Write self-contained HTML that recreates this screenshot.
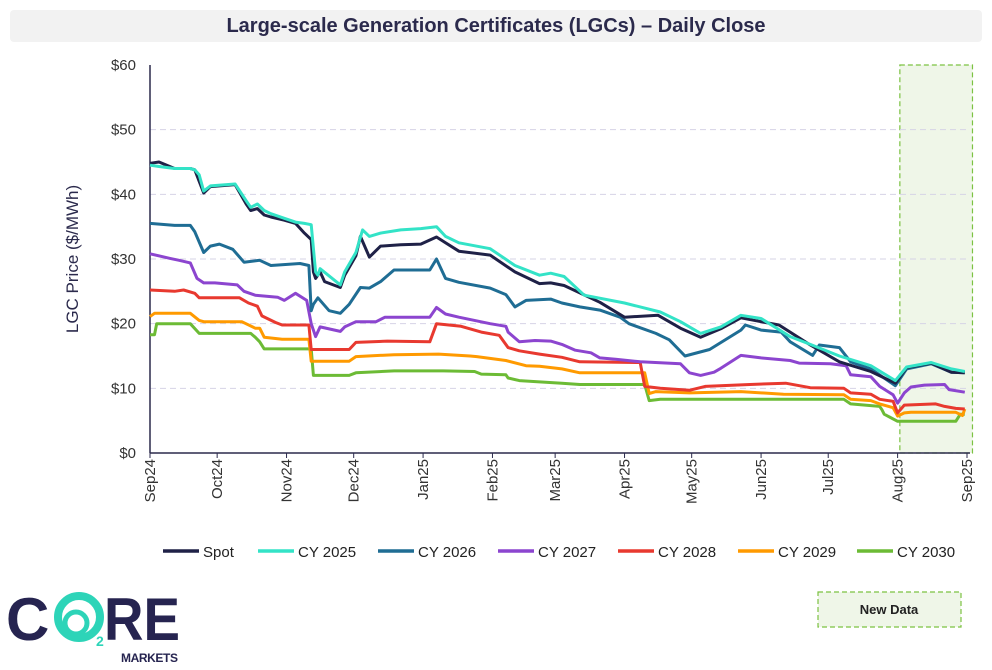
<!DOCTYPE html>
<html><head><meta charset="utf-8"><style>
body{margin:0;background:#fff;font-family:"Liberation Sans",sans-serif;}
#wrap{position:relative;width:992px;height:670px;overflow:hidden;background:#fff;}
#title{position:absolute;left:10px;top:10px;width:972px;height:32px;background:#f2f2f2;border-radius:4px;text-align:center;line-height:32px;font-weight:bold;font-size:20px;color:#2b2a4c;}
</style></head><body>
<div id="wrap">
<div id="title">Large-scale Generation Certificates (LGCs) – Daily Close</div>
<svg id="chart" width="992" height="670" style="position:absolute;left:0;top:0"></svg>
</div>
<script>
const yTicks=[0,10,20,30,40,50,60];
const monthLabels=["Sep24","Oct24","Nov24","Dec24","Jan25","Feb25","Mar25","Apr25","May25","Jun25","Jul25","Aug25","Sep25"];
const monthDays=[0,30,61,91,122,153,181,212,242,273,303,334,365];
const seriesNames=["Spot","CY 2025","CY 2026","CY 2027","CY 2028","CY 2029","CY 2030"];
const spotDays=[0,4,11,18,20,22,24,27,38,43,45,48,51,54,60,65,69,72,73,74,76,78,85,87,92,94,98,103,112,121,128,132,138,152,163,174,179,185,201,212,227,237,246,255,264,273,281,295,308,322,333,338,349,358,364];
const spotVals=[44.8,45,44,44,43.8,42,40.2,41.2,41.5,38.5,37.5,37.8,36.8,36.5,36,35.5,34,33,28,27,28,26.5,25.6,27.5,30.5,33.5,30.3,32,32.2,32.3,33.4,32.5,31.2,30.6,28,26.2,26.3,25.9,23.3,21,21.3,19.3,17.9,19.2,20.9,20.3,19.8,16.7,14.1,12.6,10.8,13.2,13.9,12.5,12.4];
const cy25Days=[0,4,11,18,20,22,24,27,38,43,45,48,51,54,60,65,69,72,74,75,76,85,87,92,95,98,103,112,121,128,132,138,152,163,174,179,185,194,212,228,237,246,255,264,273,286,295,308,322,333,338,349,358,364];
const cy25Vals=[44.5,44.3,44,44,43.8,43,40.5,41.3,41.6,39,38,38.5,37.5,37,36.3,35.7,35.5,35.3,28,27.5,28.5,26,28,31,34.5,33.5,34,34.5,34.7,35,33.5,32.5,31.6,29,27.5,27.8,27.3,24.4,23.2,21.8,20.3,18.5,19.5,21.3,20.8,18,16.8,15,13.5,11.2,13.3,14,13,12.6];
const cy26Days=[0,11,18,20,24,27,31,37,42,49,54,67,71,72,73,75,80,85,89,94,98,103,109,125,128,132,138,152,159,163,168,179,184,192,201,210,214,226,232,239,250,264,266,273,282,286,296,299,308,313,322,333,338,349,358,364];
const cy26Vals=[35.5,35.2,35.2,34.2,31,32,32.3,31.5,29.5,29.8,29,29.3,29,22,23,24,22,21.6,23,25.6,25.5,26.5,28.3,28.3,30,27,26.4,25.5,24.5,22.6,23.6,23.8,23.2,22.6,22.1,21,20,18.5,17.5,15,16,19,19.8,19,18.7,17.2,15.1,16.7,16.3,14.1,13,10.4,13,13.8,12.5,12.4];
const cy27Days=[0,9,13,18,21,24,29,39,42,47,57,60,65,70,72,74,76,85,87,92,101,105,125,128,132,138,152,159,160,165,172,179,184,190,197,201,208,219,237,241,246,252,255,264,273,286,290,304,311,313,322,326,332,334,337,340,346,355,357,364];
const cy27Vals=[30.8,30.1,29.8,29.4,27,26.3,26.3,26,25,24.4,24.1,23.6,24.7,23.6,20,18,19.5,18.8,19.5,20.3,20.3,21,21,22.5,21.5,21,20,19.6,18.7,17.2,17.4,17.3,16.8,15.9,15.5,14.7,14.5,14.1,13.8,12.4,12,12.5,13.1,15.1,14.7,14.3,13.9,13.8,13.5,12.1,11.8,10.3,9.0,7.7,9.3,10.2,10.5,10.6,9.8,9.4];
const cy28Days=[0,11,15,20,22,40,44,48,50,56,59,71,72,89,92,106,125,128,139,148,156,160,165,174,184,192,219,221,228,241,248,268,284,295,310,313,322,326,332,334,337,351,355,360,364];
const cy28Vals=[25.2,25,25.2,24.7,24,24,23.2,22.7,21.2,20.2,19.8,19.8,16,16,17.1,17.3,17.2,20,19.6,18.7,18.2,16.3,15.8,15.3,14.8,14.1,14,10.3,10,9.7,10.3,10.6,10.8,10.1,10,9.3,9.1,8.3,8,6.2,7.4,7.6,7.2,6.9,6.8];
const cy29Days=[0,2,18,22,24,41,47,49,51,59,71,72,89,92,109,129,143,146,159,168,174,184,192,221,223,226,241,264,283,310,313,322,326,332,334,337,340,360,363,364];
const cy29Vals=[21.1,21.6,21.6,20.5,20.3,20.3,19.3,19.3,17.9,17.6,17.6,14.2,14.2,14.9,15.2,15.3,15,14.9,14.3,13.5,13.4,13,12.4,12.4,9.2,9.5,9.3,9.5,9.1,9,8.3,8.1,7.6,7,5.7,6.2,6.3,6.3,5.8,6.8];
const cy30Days=[0,2,3,18,22,45,47,49,51,72,73,89,92,109,131,145,148,159,160,165,174,184,192,221,223,228,310,313,326,327,328,334,360,362,364];
const cy30Vals=[18.3,18.3,20,20,18.5,18.5,17.9,17.2,16.1,16.1,12,12,12.4,12.7,12.7,12.6,12.2,12.1,11.6,11.2,11,10.8,10.6,10.6,8.1,8.3,8.3,7.6,7.2,6.7,6.0,4.9,4.9,6,6];
const newDataStartDay=335, newDataEndDay=367;

const L=150,R=967,T=65,B=453;
const xS=d=>L+(R-L)*d/365;
const yS=v=>B-(B-T)*v/60;
const NS="http://www.w3.org/2000/svg";
const svg=document.getElementById('chart');
function mk(tag,attrs,parent){const e=document.createElementNS(NS,tag);for(const k in attrs)e.setAttribute(k,attrs[k]);(parent||svg).appendChild(e);return e;}

let nd=mk('rect',{x:xS(newDataStartDay),y:T,width:xS(newDataEndDay)-xS(newDataStartDay)+1,height:B-T,fill:'#eff6e8',stroke:'#7cc242','stroke-width':1.2,'stroke-dasharray':'5,3'});



yTicks.forEach(v=>{
  if(v>0&&v<60){let g=mk('line',{x1:L,x2:970,y1:yS(v),y2:yS(v),stroke:'#d6d3e6','stroke-width':1,'stroke-dasharray':'6,4'});
  
  }
  let t=mk('text',{x:136,y:yS(v)+5,'text-anchor':'end','font-size':15,fill:'#333','font-family':'Liberation Sans, sans-serif'});
  t.textContent='$'+v;
  
  
});
let yax=mk('line',{x1:L,x2:L,y1:T,y2:B,stroke:'#2b2a4c','stroke-width':1.5});


let xax=mk('line',{x1:L,x2:970,y1:B,y2:B,stroke:'#2b2a4c','stroke-width':1.5});


let yt=mk('text',{x:0,y:0,transform:'translate(78,259) rotate(-90)','text-anchor':'middle','font-size':17,fill:'#2b2a4c','font-family':'Liberation Sans, sans-serif'});
yt.textContent='LGC Price ($/MWh)';



monthLabels.forEach((m,i)=>{
  const x=xS(monthDays[i]);
  let tk=mk('line',{x1:x,x2:x,y1:B,y2:B+5,stroke:'#2b2a4c','stroke-width':1});
  
  
  let t=mk('text',{x:0,y:0,transform:`translate(${x+5},${B+6}) rotate(-90)`,'text-anchor':'end','font-size':15,fill:'#333','font-family':'Liberation Sans, sans-serif'});
  t.textContent=m;
  
  
});

const colors=['#1f2147','#33e3c7','#1f6d94','#8c45cf','#e8392f','#ff9a00','#6cbb35'];
const allDays=[spotDays,cy25Days,cy26Days,cy27Days,cy28Days,cy29Days,cy30Days];
const allVals=[spotVals,cy25Vals,cy26Vals,cy27Vals,cy28Vals,cy29Vals,cy30Vals];
const order=[6,5,4,3,2,0,1];
order.forEach(i=>{
  const d=allDays[i].map((dd,j)=>(j?'L':'M')+xS(dd).toFixed(1)+','+yS(allVals[i][j]).toFixed(1)).join(' ');
  let p=mk('path',{d:d,fill:'none',stroke:colors[i],'stroke-width':3,'stroke-linejoin':'round'});
  
  
});

const legX=[163,258,378,498,618,738,857];
seriesNames.forEach((n,i)=>{
  let g=mk('g',{});
  
  
  mk('line',{x1:legX[i],x2:legX[i]+36,y1:551,y2:551,stroke:colors[i],'stroke-width':3.5},g);
  let t=mk('text',{x:legX[i]+40,y:557,'font-size':15,fill:'#222','font-family':'Liberation Sans, sans-serif'},g);
  t.textContent=n;
});

let nb=mk('rect',{x:818,y:592,width:143,height:35,fill:'#eff6e8',stroke:'#7cc242','stroke-width':1.2,'stroke-dasharray':'5,3'});


let nt=mk('text',{x:889,y:614,'text-anchor':'middle','font-size':13,'font-weight':'bold',fill:'#222','font-family':'Liberation Sans, sans-serif'});
nt.textContent='New Data';



let lg=mk('g',{});


mk('text',{x:6,y:640,'font-size':60,'font-weight':'bold',fill:'#262450','font-family':'Liberation Sans, sans-serif'},lg).textContent='C';
mk('circle',{cx:79,cy:617,r:21,fill:'none',stroke:'#2dd4b8','stroke-width':8},lg);
mk('circle',{cx:76,cy:623,r:11,fill:'none',stroke:'#2dd4b8','stroke-width':5},lg);
mk('text',{x:96,y:646,'font-size':14,'font-weight':'bold',fill:'#2dd4b8','font-family':'Liberation Sans, sans-serif'},lg).textContent='2';
mk('text',{x:104,y:640,'font-size':60,'font-weight':'bold',fill:'#262450','font-family':'Liberation Sans, sans-serif','textLength':76,'lengthAdjust':'spacingAndGlyphs'},lg).textContent='RE';
mk('text',{x:121,y:662,'font-size':12,'font-weight':'bold',fill:'#262450','font-family':'Liberation Sans, sans-serif','textLength':57},lg).textContent='MARKETS';
</script>
</body></html>
